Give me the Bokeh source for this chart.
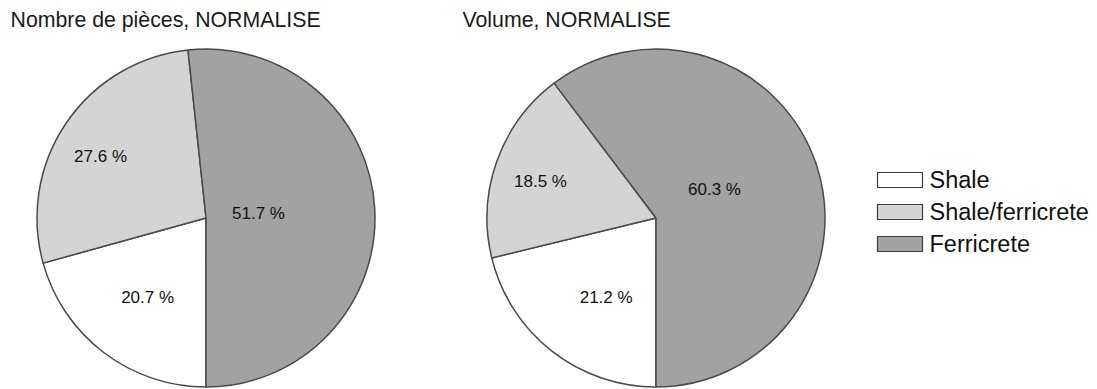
import numpy as np
from bokeh.plotting import figure
from bokeh.models import Range1d
from bokeh.core.properties import value
from bokeh.embed import file_html
from bokeh.resources import INLINE

# ---- data ----
categories = ["Shale", "Shale/ferricrete", "Ferricrete"]
pieces_pct = [20.7, 27.6, 51.7]
volume_pct = [21.2, 18.5, 60.3]
titles = ["Nombre de pièces, NORMALISE", "Volume, NORMALISE"]

# ---- style ----
colors = ["#FFFFFF", "#D4D4D4", "#A2A2A2"]
edge = "#4A4A4A"
FONT = "Liberation Sans"
W, H = 1097, 389

def X(x):
    return x

def Y(y):
    return H - y

p = figure(width=W, height=H, output_backend="svg", toolbar_location=None,
           x_range=Range1d(0, W), y_range=Range1d(0, H), min_border=0)
p.axis.visible = False
p.grid.visible = False
p.outline_line_color = None
p.background_fill_color = "white"
p.border_fill_color = "white"

# label placement style: radius fraction and angular offset (deg) per slice
pies = [
    dict(vals=pieces_pct, cx=205.5, cy=217.5, title_x=10,
         lab_frac=[0.584, 0.722, 0.312], lab_off=[1.0, 4.0, 2.0]),
    dict(vals=volume_pct, cx=655.5, cy=217.5, title_x=462,
         lab_frac=[0.554, 0.717, 0.385], lab_off=[6.0, 2.0, 7.5]),
]
R = 169

for pie, title in zip(pies, titles):
    v = np.array(pie["vals"], dtype=float)
    frac = v / v.sum()
    cum = np.concatenate([[0], np.cumsum(frac)])
    start = -np.pi / 2 - 2 * np.pi * cum[:-1]
    end = -np.pi / 2 - 2 * np.pi * cum[1:]
    cx, cy = X(pie["cx"]), Y(pie["cy"])
    p.wedge(x=cx, y=cy, radius=R, start_angle=list(start), end_angle=list(end),
            direction="clock", fill_color=colors, line_color=edge, line_width=1.5)
    mid = (start + end) / 2 + np.radians(pie["lab_off"])
    lf = np.array(pie["lab_frac"])
    lx = cx + lf * R * np.cos(mid)
    ly = cy + lf * R * np.sin(mid)
    p.text(x=list(lx), y=list(ly), text=[f"{x:.1f} %" for x in v],
           text_font=value(FONT), text_font_size="17px", text_color="#111111",
           text_align="center", text_baseline="middle")
    p.text(x=[X(pie["title_x"])], y=[Y(19)], text=[title],
           text_font=value(FONT), text_font_size="21.3px", text_color="#1a1a1a",
           text_align="left", text_baseline="middle")

# ---- legend ----
leg_x, leg_y0, leg_dy = 899.5, 179.5, 32
ly_ = [Y(leg_y0 + i * leg_dy) for i in range(len(categories))]
p.rect(x=[X(leg_x)] * len(categories), y=ly_, width=45, height=15,
       fill_color=colors, line_color="#3A3A3A", line_width=1.2)
p.text(x=[X(929)] * len(categories), y=ly_, text=categories,
       text_font=value(FONT), text_font_size="23.5px", text_color="#111111",
       text_align="left", text_baseline="middle")

open("out.html", "w").write(file_html(p, INLINE))
